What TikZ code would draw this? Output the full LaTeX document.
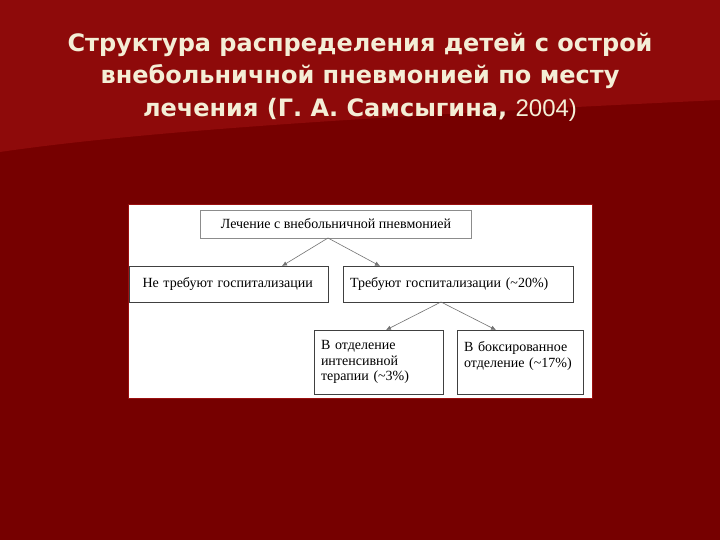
\documentclass[tikz,border=0pt]{standalone}
\usepackage{fontspec}
\setmainfont{Liberation Serif}
\newfontfamily\titlefont{DejaVu Sans}
\newfontfamily\yearfont{Liberation Sans}
\usetikzlibrary{arrows.meta}
\definecolor{bgdark}{HTML}{760000}
\definecolor{bglight}{HTML}{8E0A0A}
\definecolor{cream}{HTML}{F4EED6}
\definecolor{panelred}{HTML}{9A1010}
\tikzset{
  box/.style={draw=black!75, line width=0.6pt, fill=white, rectangle, inner sep=0pt, font=\fontsize{14}{15.5}\selectfont},
  conn/.style={draw=black!55, line width=0.6pt, -{Latex[length=5pt,width=4.5pt]}},
}
\begin{document}
\begin{tikzpicture}[x=1pt,y=-1pt]
\useasboundingbox (0,0) rectangle (720,540);
\fill[bgdark] (0,0) rectangle (720,540);
\fill[bglight] (0,0) -- (720,0) -- (720,100) .. controls (400,115) and (150,130) .. (0,152) -- cycle;
\node[font=\titlefont\bfseries\fontsize{24}{32.5}\selectfont, text=cream, align=center] (title) at (360,77)
  {Структура распределения детей с острой\\внебольничной пневмонией по месту\\лечения (Г. А. Самсыгина, {\yearfont\mdseries 2004)}};
\draw[panelred, fill=white, line width=1pt] (128,205) rectangle (592,398);
\node[box, draw=black!45, minimum width=271pt, minimum height=28pt] (top) at (336,224) {Лечение с внебольничной пневмонией};
\node[box, minimum width=199pt, minimum height=36pt, text width=173pt, align=left] (left) at (229,284) {Не требуют госпитализации};
\node[box, minimum width=230pt, minimum height=36pt, text width=216pt, align=left] (right) at (458,284) {Требуют госпитализации (\textasciitilde20\%)};
\node[box, minimum width=129pt, minimum height=64pt, text width=115pt, align=left] (icu) at (378.5,362) {В отделение\\интенсивной\\терапии (\textasciitilde3\%)};
\node[box, minimum width=126pt, minimum height=64pt, text width=112pt, align=left] (box) at (520,362) {В боксированное\\отделение (\textasciitilde17\%)\\\mbox{}};
\coordinate (ts) at (328,238);
\coordinate (rs) at (441,302);
\draw[conn] (ts) -- (282,266);
\draw[conn] (ts) -- (380,266);
\draw[conn] (rs) -- (386,330);
\draw[conn] (rs) -- (496,330);
\end{tikzpicture}
\end{document}
